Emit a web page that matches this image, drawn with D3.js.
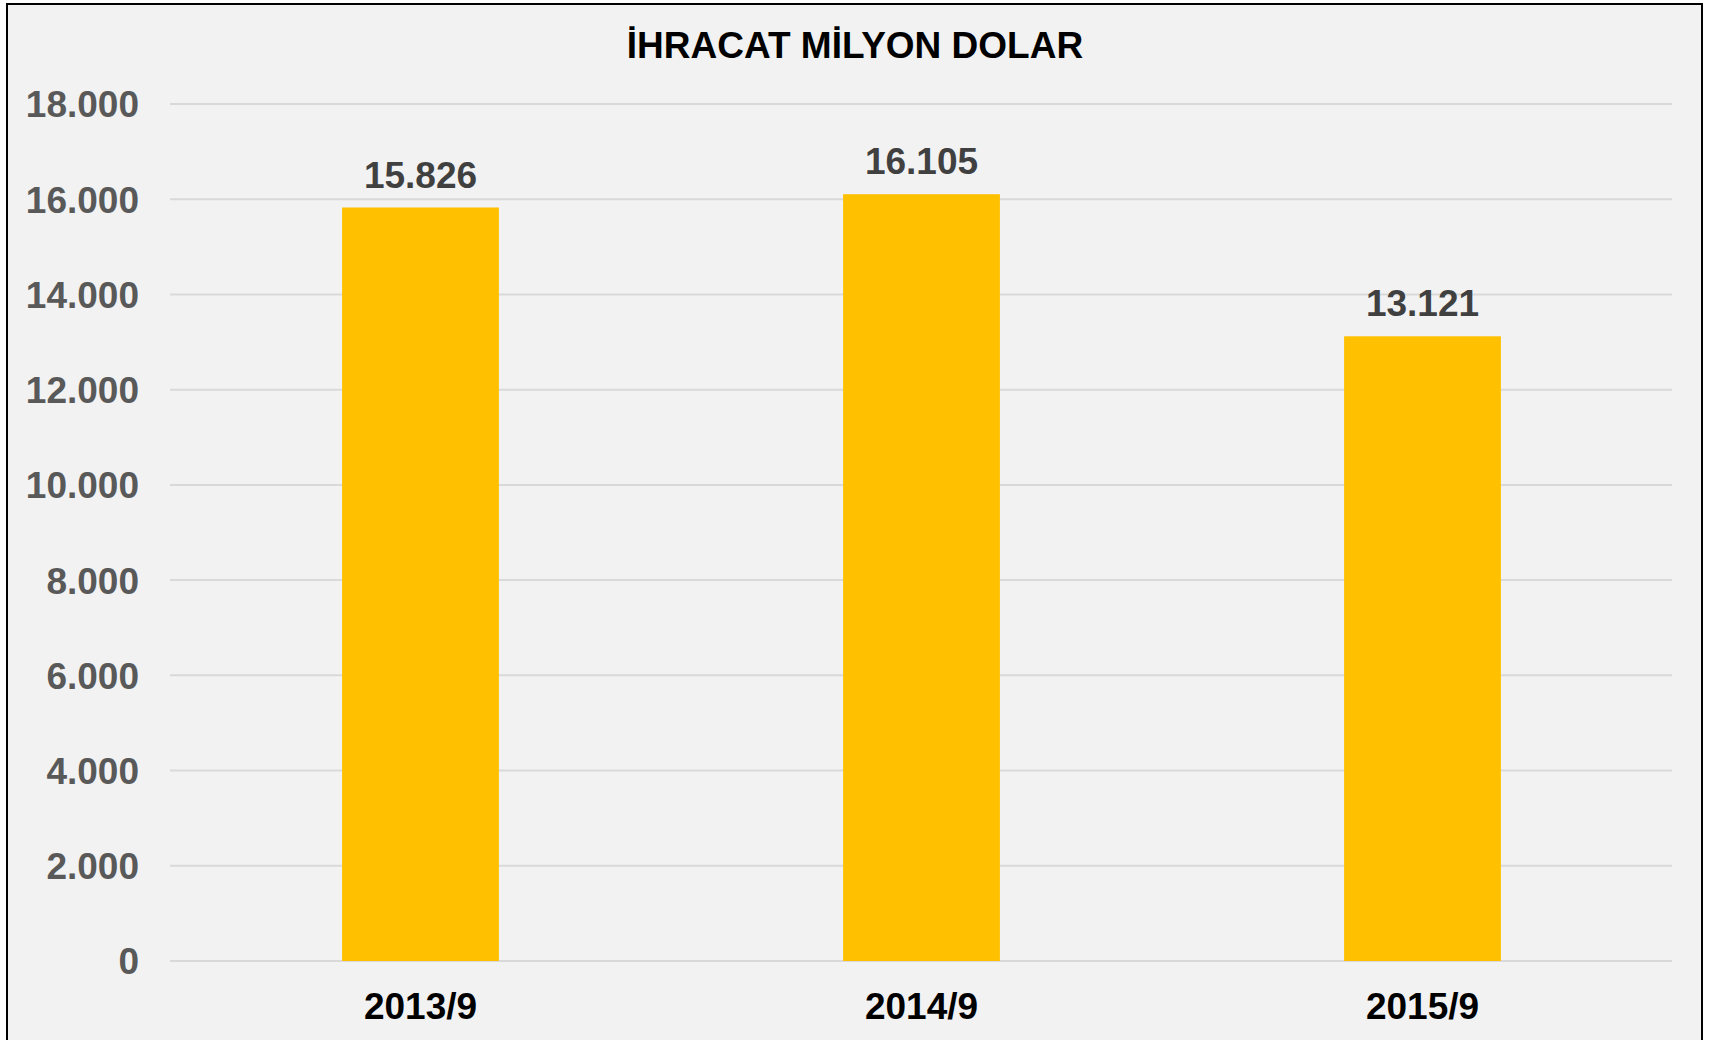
<!DOCTYPE html>
<html>
<head>
<meta charset="utf-8">
<script src="https://cdn.jsdelivr.net/npm/d3@7"></script>
<style>
  body { margin: 0; background: #fff; }
  text { font-family: "Liberation Sans", Arial, sans-serif; font-weight: bold; }
</style>
</head>
<body>
<div id="chart"></div>
<script>
const title = "İHRACAT MİLYON DOLAR";
const periods = ["2013/9", "2014/9", "2015/9"];
const exportValues = [15826, 16105, 13121];
const yTicks = [0, 2000, 4000, 6000, 8000, 10000, 12000, 14000, 16000, 18000];

const width = 1709, height = 1040;
const trFormat = d3.formatLocale({ decimal: ",", thousands: ".", grouping: [3], currency: ["", " TL"] }).format(",d");

const svg = d3.select("#chart").append("svg")
    .attr("width", width)
    .attr("height", height);

// Çerçeve ve arka plan
svg.append("rect")
    .attr("x", 7).attr("y", 4)
    .attr("width", 1695).attr("height", height)
    .attr("fill", "#f2f2f2")
    .attr("stroke", "#000")
    .attr("stroke-width", 2);

const x = d3.scaleBand()
    .domain(periods)
    .range([170, 1673])
    .paddingInner(0.687)
    .paddingOuter(0.3435);

const y = d3.scaleLinear()
    .domain([0, 18000])
    .range([961, 104]);

// Yatay kılavuz çizgileri
svg.append("g")
    .selectAll("line")
    .data(yTicks)
    .join("line")
    .attr("x1", 170).attr("x2", 1672)
    .attr("y1", d => y(d)).attr("y2", d => y(d))
    .attr("stroke", "#d9d9d9")
    .attr("stroke-width", 2);

// Y ekseni etiketleri
const yAxis = svg.append("g")
    .attr("transform", "translate(170,0)")
    .call(d3.axisLeft(y).tickValues(yTicks).tickFormat(trFormat).tickSize(0).tickPadding(31));
yAxis.select(".domain").remove();
yAxis.selectAll("text")
    .attr("font-size", 37)
    .attr("fill", "#595959")
    .attr("font-family", "Liberation Sans, Arial, sans-serif")
    .attr("font-weight", "bold")
    .attr("dy", "0.35em");

// Sütunlar
svg.append("g")
    .selectAll("rect")
    .data(exportValues)
    .join("rect")
    .attr("x", (d, i) => x(periods[i]))
    .attr("y", d => y(d))
    .attr("width", x.bandwidth())
    .attr("height", d => y(0) - y(d))
    .attr("fill", "#ffc000");

// Değer etiketleri
svg.append("g")
    .selectAll("text")
    .data(exportValues)
    .join("text")
    .attr("x", (d, i) => x(periods[i]) + x.bandwidth() / 2)
    .attr("y", d => y(d) - 20)
    .attr("text-anchor", "middle")
    .attr("font-size", 37)
    .attr("fill", "#404040")
    .text(d => trFormat(d));

// X ekseni etiketleri
const xAxis = svg.append("g")
    .attr("transform", `translate(0,${y(0)})`)
    .call(d3.axisBottom(x).tickSize(0).tickPadding(0));
xAxis.select(".domain").remove();
xAxis.selectAll("text")
    .attr("font-size", 37)
    .attr("fill", "#000")
    .attr("font-family", "Liberation Sans, Arial, sans-serif")
    .attr("font-weight", "bold")
    .attr("dy", 58);

// Başlık
svg.append("text")
    .attr("x", 855)
    .attr("y", 58)
    .attr("text-anchor", "middle")
    .attr("font-size", 37)
    .attr("fill", "#000")
    .text(title);
</script>
</body>
</html>
